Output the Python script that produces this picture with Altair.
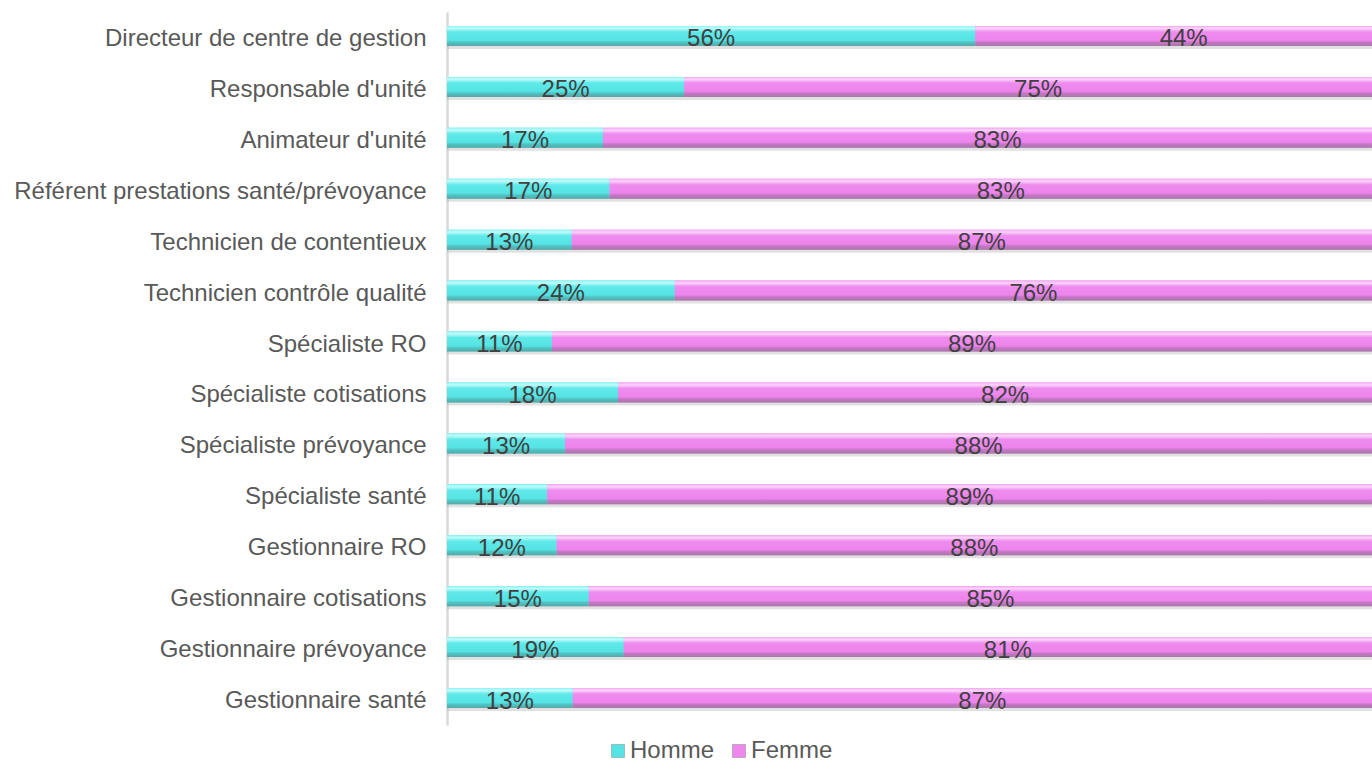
import altair as alt
import pandas as pd

categories = [
    "Directeur de centre de gestion",
    "Responsable d'unité",
    "Animateur d'unité\u00a0",
    "Référent prestations santé/prévoyance",
    "Technicien de contentieux",
    "Technicien contrôle qualité",
    "Spécialiste RO",
    "Spécialiste cotisations",
    "Spécialiste prévoyance",
    "Spécialiste santé",
    "Gestionnaire RO",
    "Gestionnaire cotisations",
    "Gestionnaire prévoyance",
    "Gestionnaire santé",
]
homme_share = [0.559, 0.251, 0.165, 0.172, 0.132, 0.241, 0.111, 0.181, 0.125, 0.106, 0.116, 0.150, 0.187, 0.133]
homme_labels = ["56%", "25%", "17%", "17%", "13%", "24%", "11%", "18%", "13%", "11%", "12%", "15%", "19%", "13%"]
femme_labels = ["44%", "75%", "83%", "83%", "87%", "76%", "89%", "82%", "88%", "89%", "88%", "85%", "81%", "87%"]
series = ["Homme", "Femme"]
series_colors = ["#55e3e3", "#ee88ee"]

rows = []
for cat, h, hl, fl in zip(categories, homme_share, homme_labels, femme_labels):
    rows.append({"cat": cat, "series": "Homme", "start": 0.0, "end": h, "label": hl})
    rows.append({"cat": cat, "series": "Femme", "start": h, "end": 1.0, "label": fl})
df = pd.DataFrame(rows)
df["mid"] = (df["start"] + df["end"]) / 2

FONT = "Liberation Sans"
BAR = 20
FS = 24

y_enc = alt.Y(
    "cat:N", sort=categories, title=None,
    axis=alt.Axis(labelFontSize=FS, labelColor="#595959", labelFont=FONT,
                  labelPadding=21, ticks=False, domainColor="#d9d9d9",
                  domainWidth=2.5, labelLimit=600, grid=False, labelOffset=1.5),
)
x_scale = alt.Scale(domain=[0, 0.9788], nice=False)

base = alt.Chart(df)

shadow = base.mark_bar(size=BAR, yOffset=1.5, color="#a8a8a8", opacity=0.35, clip=True).encode(
    x=alt.X("start:Q", scale=x_scale, axis=None), x2="end:Q", y=y_enc
)

main = base.mark_bar(size=BAR, yOffset=-1.5, clip=True).encode(
    x=alt.X("start:Q", scale=x_scale, axis=None), x2="end:Q", y=y_enc,
    color=alt.Color("series:N", sort=series,
                    scale=alt.Scale(domain=series, range=series_colors),
                    legend=alt.Legend(orient="none", legendX=159, legendY=727,
                                      direction="horizontal", title=None,
                                      labelFontSize=FS, labelColor="#595959",
                                      labelFont=FONT, symbolType="square",
                                      symbolSize=169, labelOffset=0,
                                      columnPadding=12, padding=0,
                                      symbolStrokeColor="#888888",
                                      symbolStrokeWidth=0.5)),
)

def grad(stops):
    return alt.Gradient(
        gradient="linear", x1=0, x2=0, y1=0, y2=1,
        stops=[alt.GradientStop(color=c, offset=o) for o, c in stops],
    )

cyan_grad = grad([(0.0, "#8ff3f3"), (0.12, "#c0fbfb"), (0.3, "#60e9e9"),
                  (0.72, "#55e3e3"), (0.82, "#4fc4c4"), (1.0, "#5aa6a6")])
pink_grad = grad([(0.0, "#f2a8f2"), (0.12, "#fbd4fb"), (0.3, "#ef8cef"),
                  (0.72, "#ec84ec"), (0.82, "#c775c7"), (1.0, "#a47aa4")])

homme_bar = base.transform_filter(alt.datum.series == "Homme").mark_bar(
    size=BAR, yOffset=-1.5, clip=True, color=cyan_grad
).encode(x=alt.X("start:Q", scale=x_scale, axis=None), x2="end:Q", y=y_enc)

femme_bar = base.transform_filter(alt.datum.series == "Femme").mark_bar(
    size=BAR, yOffset=-1.5, clip=True, color=pink_grad
).encode(x=alt.X("start:Q", scale=x_scale, axis=None), x2="end:Q", y=y_enc)

text = base.mark_text(fontSize=FS, color="#404040", font=FONT, align="center",
                      baseline="middle", dy=2).encode(
    x=alt.X("mid:Q", scale=x_scale, axis=None), y=y_enc, text="label:N"
)

chart = alt.layer(shadow, main, homme_bar, femme_bar, text).properties(
    width=925, height=713,
    padding={"left": 447, "top": 12, "right": 0, "bottom": 36},
    autosize=alt.AutoSizeParams(type="none"),
    background="white",
).configure_view(stroke=None)

chart.save("out.html", embed_options={"renderer": "svg", "actions": False})
